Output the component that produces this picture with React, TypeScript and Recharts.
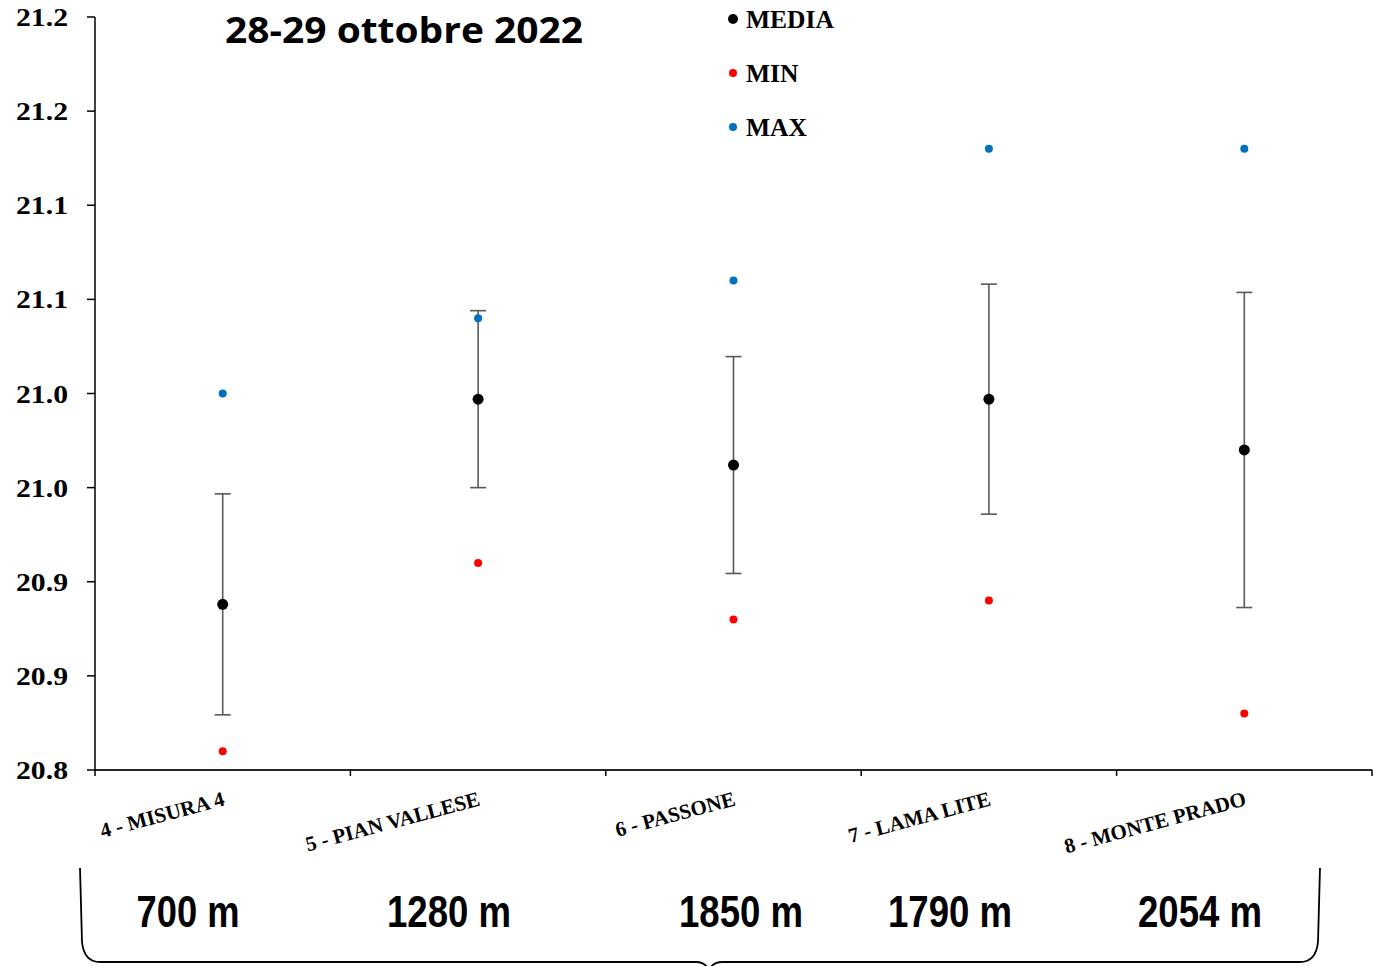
import React from "react";
import { ComposedChart, Scatter, XAxis, YAxis, ErrorBar, Legend } from "recharts";

const categories = ["4 - MISURA 4", "5 - PIAN VALLESE", "6 - PASSONE", "7 - LAMA LITE", "8 - MONTE PRADO"];
const mediaValues = [20.888, 20.997, 20.962, 20.997, 20.970];
const stdValues = [0.0587, 0.047, 0.0576, 0.0611, 0.0837];
const minValues = [20.81, 20.91, 20.88, 20.89, 20.83];
const maxValues = [21.0, 21.04, 21.06, 21.13, 21.13];
const seriesNames = ["MEDIA", "MIN", "MAX"];
const altitudes = ["700 m", "1280 m", "1850 m", "1790 m", "2054 m"];
const altitudeCenters = [188, 449, 741, 950, 1200];
const yTickValues = [20.8, 20.85, 20.9, 20.95, 21.0, 21.05, 21.1, 21.15, 21.2];
const yTickLabels = ["20.8", "20.9", "20.9", "21.0", "21.0", "21.1", "21.1", "21.2", "21.2"];
const title = "28-29 ottobre 2022";

const data = categories.map((name, i) => ({
  name,
  media: mediaValues[i],
  sd: stdValues[i],
  min: minValues[i],
  max: maxValues[i],
}));

const W = 1373;
const H = 966;
const PLOT_LEFT = 95;
const PLOT_RIGHT = 1372;
const PLOT_TOP = 17;
const PLOT_BOTTOM = 770;
const BAND = (PLOT_RIGHT - PLOT_LEFT) / categories.length;

const SERIF = "'Liberation Serif', 'Times New Roman', serif";
const SANS = "'Liberation Sans', Arial, sans-serif";

const YTick = (props: any) => {
  const { x, y, payload } = props;
  const idx = yTickValues.findIndex((v) => Math.abs(v - payload.value) < 1e-6);
  const label = idx >= 0 ? yTickLabels[idx] : String(payload.value);
  return (
    <text
      x={x - 17}
      y={y + 9}
      textAnchor="end"
      fontFamily={SERIF}
      fontWeight="bold"
      fontSize={25}
      fill="#000"
      textLength={52}
      lengthAdjust="spacingAndGlyphs"
    >
      {label}
    </text>
  );
};

const XTick = (props: any) => {
  const { x, payload, index } = props;
  const left = x - BAND / 2;
  const right = x + BAND / 2;
  const ax = x + 3;
  const ay = PLOT_BOTTOM + 35;
  return (
    <g>
      <line x1={left} y1={PLOT_BOTTOM} x2={left} y2={PLOT_BOTTOM + 6} stroke="#000" strokeWidth={1.5} />
      {index === categories.length - 1 && (
        <line x1={right} y1={PLOT_BOTTOM} x2={right} y2={PLOT_BOTTOM + 6} stroke="#000" strokeWidth={1.5} />
      )}
      <text
        x={ax}
        y={ay}
        textAnchor="end"
        transform={`rotate(-15, ${ax}, ${ay})`}
        fontFamily={SERIF}
        fontWeight="bold"
        fontSize={21}
        fill="#000"
      >
        {payload.value}
      </text>
    </g>
  );
};

const makeDot = (r: number, color: string) => (props: any) => {
  const { cx, cy } = props;
  if (cx == null || cy == null) return <g />;
  return <circle cx={cx} cy={cy} r={r} fill={color} />;
};

const LegendContent = (props: any) => {
  const { payload } = props;
  const items = [...(payload || [])].sort(
    (a: any, b: any) => seriesNames.indexOf(a.value) - seriesNames.indexOf(b.value)
  );
  return (
    <svg width={200} height={150} style={{ display: "block" }}>
      {items.map((it: any, i: number) => (
        <g key={i}>
          <circle cx={9} cy={19 + i * 54} r={i === 0 ? 5 : 4} fill={it.color} />
          <text x={22} y={28 + i * 54} fontFamily={SERIF} fontWeight="bold" fontSize={25.5} fill="#000">
            {it.value}
          </text>
        </g>
      ))}
    </svg>
  );
};

export default function App() {
  return (
    <div style={{ position: "absolute", left: 0, top: 0, width: W, height: H, background: "#fff" }}>
      <ComposedChart
        width={W}
        height={H}
        data={data}
        margin={{ top: PLOT_TOP, right: W - PLOT_RIGHT, bottom: H - PLOT_BOTTOM - 60, left: 0 }}
      >
        <XAxis
          dataKey="name"
          type="category"
          scale="band"
          height={60}
          axisLine={{ stroke: "#262626", strokeWidth: 2 }}
          tickLine={false}
          tick={<XTick />}
          interval={0}
        />
        <YAxis
          type="number"
          domain={[20.8, 21.2]}
          ticks={yTickValues}
          width={PLOT_LEFT}
          axisLine={{ stroke: "#000", strokeWidth: 1.5 }}
          tickLine={{ stroke: "#000", strokeWidth: 1.5 }}
          tickSize={8}
          tick={<YTick />}
          interval={0}
          allowDataOverflow
        />
        <Legend
          verticalAlign="middle"
          align="center"
          layout="vertical"
          wrapperStyle={{ position: "absolute", top: 0, left: 724, width: 200, height: 150 }}
          content={<LegendContent />}
        />
        <Scatter name="MEDIA" dataKey="media" fill="#000000" isAnimationActive={false} shape={makeDot(5.5, "#000000")}>
          <ErrorBar dataKey="sd" direction="y" width={8} stroke="#595959" strokeWidth={1.6} />
        </Scatter>
        <Scatter name="MIN" dataKey="min" fill="#FF0000" isAnimationActive={false} shape={makeDot(4, "#FF0000")} />
        <Scatter name="MAX" dataKey="max" fill="#0070C0" isAnimationActive={false} shape={makeDot(4, "#0070C0")} />
      </ComposedChart>
      <svg width={W} height={H} style={{ position: "absolute", left: 0, top: 0, pointerEvents: "none" }}>
        <text
          x={225}
          y={43}
          fontFamily="'Open Sans', Calibri, sans-serif"
          fontWeight="bold"
          fontSize={36}
          fill="#000"
          textLength={358}
          lengthAdjust="spacingAndGlyphs"
        >
          {title}
        </text>
        <path
          d="M 80 868 L 82 942 Q 84 962 100 962 L 696 962 Q 705 962 709 970 Q 713 962 722 962 L 1300 962 Q 1316 962 1318 942 L 1320 868"
          fill="none"
          stroke="#000"
          strokeWidth={1.8}
        />
        {altitudes.map((a, i) => (
          <text
            key={a}
            x={altitudeCenters[i]}
            y={927}
            textAnchor="middle"
            fontFamily={SANS}
            fontWeight="bold"
            fontSize={44}
            fill="#000"
            textLength={i === 0 ? 103 : 124}
            lengthAdjust="spacingAndGlyphs"
          >
            {a}
          </text>
        ))}
      </svg>
    </div>
  );
}
